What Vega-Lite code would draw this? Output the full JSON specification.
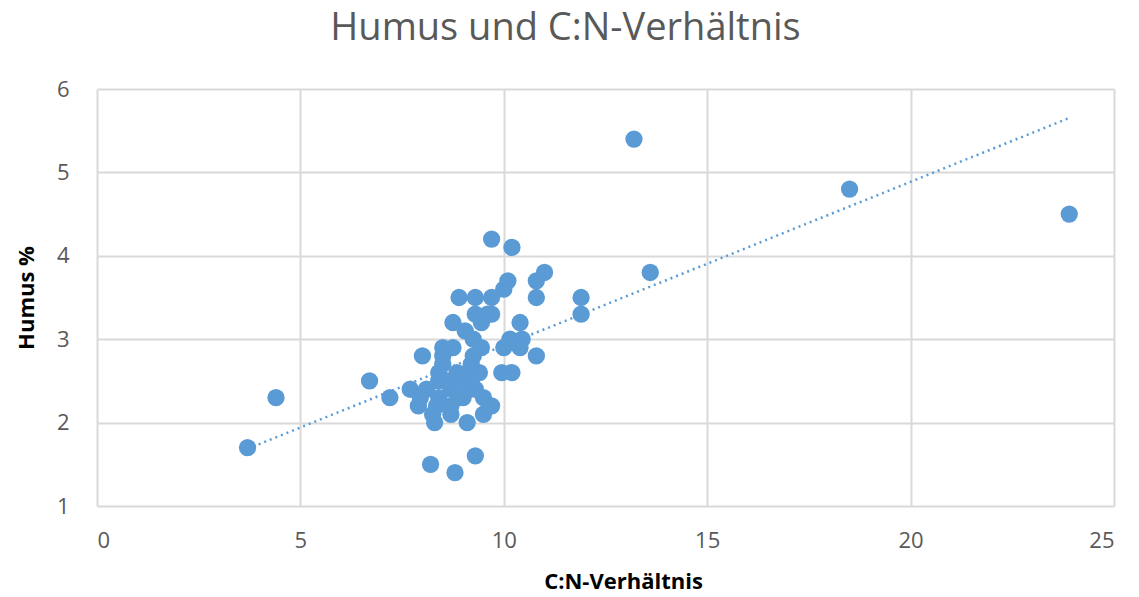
{
  "$schema": "https://vega.github.io/schema/vega-lite/v6.json",
  "width": 1017,
  "height": 417,
  "autosize": "none",
  "padding": {"left": 97, "top": 89, "right": 25, "bottom": 91},
  "background": "white",
  "title": {"text": "Humus und C:N-Verhältnis", "font": "Open Sans", "fontSize": 38, "fontWeight": "normal", "color": "#595959", "anchor": "middle", "offset": 30, "dx": -40},
  "config": {"view": {"stroke": null}},
  "data": {"values": [
    {"cn": 3.7, "humus": 1.7}, {"cn": 4.4, "humus": 2.3}, {"cn": 6.7, "humus": 2.5}, {"cn": 7.2, "humus": 2.3},
    {"cn": 7.7, "humus": 2.4}, {"cn": 7.9, "humus": 2.2}, {"cn": 7.95, "humus": 2.3}, {"cn": 8.0, "humus": 2.8},
    {"cn": 8.1, "humus": 2.4}, {"cn": 8.2, "humus": 1.5}, {"cn": 8.25, "humus": 2.1}, {"cn": 8.3, "humus": 2.0},
    {"cn": 8.35, "humus": 2.2}, {"cn": 8.4, "humus": 2.3}, {"cn": 8.4, "humus": 2.5}, {"cn": 8.4, "humus": 2.6},
    {"cn": 8.5, "humus": 2.8}, {"cn": 8.5, "humus": 2.9}, {"cn": 8.5, "humus": 2.7}, {"cn": 8.6, "humus": 2.5},
    {"cn": 8.7, "humus": 2.1}, {"cn": 8.7, "humus": 2.2}, {"cn": 8.7, "humus": 2.4}, {"cn": 8.75, "humus": 2.9},
    {"cn": 8.75, "humus": 3.2}, {"cn": 8.8, "humus": 1.4}, {"cn": 8.85, "humus": 2.6}, {"cn": 8.9, "humus": 2.3},
    {"cn": 8.9, "humus": 2.5}, {"cn": 8.9, "humus": 3.5}, {"cn": 9.0, "humus": 2.3}, {"cn": 9.05, "humus": 3.1},
    {"cn": 9.1, "humus": 2.0}, {"cn": 9.1, "humus": 2.6}, {"cn": 9.15, "humus": 2.4}, {"cn": 9.2, "humus": 2.5},
    {"cn": 9.2, "humus": 2.7}, {"cn": 9.25, "humus": 2.8}, {"cn": 9.25, "humus": 3.0}, {"cn": 9.3, "humus": 1.6},
    {"cn": 9.3, "humus": 2.4}, {"cn": 9.3, "humus": 3.3}, {"cn": 9.3, "humus": 3.5}, {"cn": 9.4, "humus": 2.6},
    {"cn": 9.45, "humus": 2.9}, {"cn": 9.45, "humus": 3.2}, {"cn": 9.5, "humus": 2.1}, {"cn": 9.5, "humus": 2.3},
    {"cn": 9.6, "humus": 3.3}, {"cn": 9.7, "humus": 2.2}, {"cn": 9.7, "humus": 3.3}, {"cn": 9.7, "humus": 3.5},
    {"cn": 9.7, "humus": 4.2}, {"cn": 9.95, "humus": 2.6}, {"cn": 10.0, "humus": 2.9}, {"cn": 10.0, "humus": 3.6},
    {"cn": 10.1, "humus": 3.7}, {"cn": 10.15, "humus": 3.0}, {"cn": 10.2, "humus": 2.6}, {"cn": 10.2, "humus": 4.1},
    {"cn": 10.4, "humus": 2.9}, {"cn": 10.45, "humus": 3.0}, {"cn": 10.4, "humus": 3.2}, {"cn": 10.8, "humus": 2.8},
    {"cn": 10.8, "humus": 3.5}, {"cn": 10.8, "humus": 3.7}, {"cn": 11.0, "humus": 3.8}, {"cn": 11.9, "humus": 3.3},
    {"cn": 11.9, "humus": 3.5}, {"cn": 13.2, "humus": 5.4}, {"cn": 13.6, "humus": 3.8}, {"cn": 18.5, "humus": 4.8},
    {"cn": 23.9, "humus": 4.5}
  ]},
  "encoding": {
    "x": {"field": "cn", "type": "quantitative", "scale": {"domain": [0, 25], "nice": false},
      "axis": {"title": "C:N-Verhältnis", "values": [0, 5, 10, 15, 20, 25], "grid": true, "gridColor": "#D9D9D9", "gridWidth": 2,
        "domain": false, "ticks": false, "labelFont": "Open Sans", "labelFontSize": 22, "labelColor": "#595959", "labelPadding": 24,
        "titleFont": "Open Sans", "titleFontSize": 22, "titleFontWeight": "bold", "titleColor": "#000000", "titlePadding": 20, "titleX": 526}},
    "y": {"field": "humus", "type": "quantitative", "scale": {"domain": [1, 6], "nice": false, "zero": false},
      "axis": {"title": "Humus %", "values": [1, 2, 3, 4, 5, 6], "grid": true, "gridColor": "#D9D9D9", "gridWidth": 2,
        "domain": false, "ticks": false, "labelFont": "Open Sans", "labelFontSize": 22, "labelColor": "#595959", "labelPadding": 28,
        "titleFont": "Open Sans", "titleFontSize": 22, "titleFontWeight": "bold", "titleColor": "#000000", "titlePadding": 18}}
  },
  "layer": [
    {"mark": {"type": "point", "filled": true, "shape": "circle", "size": 300, "color": "#5B9BD5", "opacity": 1}},
    {"transform": [{"regression": "humus", "on": "cn", "extent": [3.7, 23.9]}],
     "mark": {"type": "line", "color": "#5B9BD5", "strokeWidth": 2.5, "strokeDash": [2, 4]}}
  ]
}
